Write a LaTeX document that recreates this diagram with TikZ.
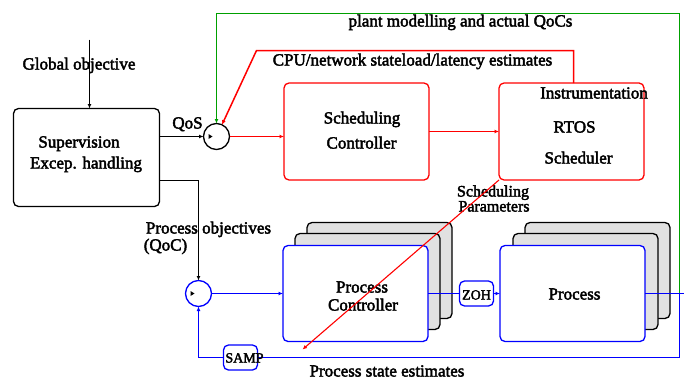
\documentclass[tikz,border=0pt]{standalone}
\usepackage{fontspec}
\setmainfont{Liberation Serif}[FakeBold=2.5]
\usetikzlibrary{arrows.meta}
\definecolor{fred}{RGB}{255,0,0}
\definecolor{fgreen}{RGB}{0,160,0}
\definecolor{fblue}{RGB}{0,0,255}
\definecolor{shade}{RGB}{225,225,225}
\tikzset{
  lnk/.style={line width=1.5pt},
  arr/.style={-{Latex[length=4.5pt,width=4pt]}}
}
\begin{document}
\begin{tikzpicture}[x=1pt,y=-1pt,
  every node/.style={inner sep=0pt, outer sep=0pt},
  lbl/.style={font=\fontsize{17}{19}\selectfont, anchor=base},
  smalllbl/.style={font=\fontsize{14}{16}\selectfont, anchor=base},
  bigbox/.style={draw, rounded corners=5pt, fill=white, line width=1.3pt, minimum width=145pt, minimum height=96pt},
  shadowbox/.style={draw=black, fill=shade, rounded corners=5pt, line width=1.3pt, minimum width=145pt, minimum height=96pt},
  tinybox/.style={draw=fblue, rounded corners=5pt, fill=white, line width=1.3pt, minimum width=34pt, minimum height=25pt},
  sumc/.style={circle, draw, minimum size=26pt, line width=1.3pt, fill=white}
]
\useasboundingbox (-0.5,-0.5) rectangle (683.5,379.5);

% shadows
\node[shadowbox] (pcs2) at (379,270) {};
\node[shadowbox] (pcs1) at (367,281) {};
\node[shadowbox] (prs2) at (597,270) {};
\node[shadowbox] (prs1) at (585,281) {};

% main boxes
\node[bigbox, draw=black, minimum width=146pt, minimum height=98pt] (sup) at (86,157) {};
\node[bigbox, draw=fred, minimum height=97pt] (sc) at (356,131) {};
\node[bigbox, draw=fred, minimum height=97pt] (rt) at (571,131) {};
\node[bigbox, draw=fblue] (pc) at (355,293) {};
\node[bigbox, draw=fblue] (pr) at (572,293) {};
\node[tinybox] (zoh) at (476,293) {};
\node[tinybox] (samp) at (240,357) {};
\node[sumc, draw=black] (c1) at (216,136) {};
\node[sumc, draw=fblue] (c2) at (198,293) {};
\fill[black] ([shift={(-8,-2.5)}]c1.center) -- ++(0,5) -- ++(4,-2.5) -- cycle;
\fill[black] ([shift={(-8,-2.5)}]c2.center) -- ++(0,5) -- ++(4,-2.5) -- cycle;

% coordinates
\coordinate (gtop) at (89,39);
\coordinate (cpuA) at (573,50);
\coordinate (cpuB) at (256,50);
\coordinate (gjoin) at (679,293);
\coordinate (gR) at (679,13);
\coordinate (pobj) at (198,180);
\coordinate (outR) at (684,293);
\coordinate (fbR) at (679,357);
\coordinate (fbL) at (198,357);
\coordinate (pse) at (302,349);

% black connectors
\draw[lnk,arr] (gtop) -- (gtop |- sup.north);
\draw[lnk,arr] (sup.east |- c1.west) -- (c1.west);
\draw[lnk,arr] (sup.east |- pobj) -- (pobj) -- (c2.north);

% green
\draw[lnk,draw=fgreen,arr] (gjoin) -- (gR) -- (c1.north |- gR) -- (c1.north);

% red
\draw[lnk,draw=fred,arr] (c1.east) -- (sc.west |- c1.east);
\draw[lnk,draw=fred,arr] (sc.east) -- (rt.west);
\draw[lnk,draw=fred,arr] (cpuA |- rt.north) -- (cpuA) -- (cpuB) -- (c1);

% blue
\draw[lnk,draw=fblue,arr] (c2.east) -- (pc.west);
\draw[lnk,draw=fblue] (pc.east) -- (zoh.west);
\draw[lnk,draw=fblue,arr] (zoh.east) -- (pr.west);
\draw[lnk,draw=fblue] (pr.east) -- (outR);
\draw[lnk,draw=fblue] (gjoin) -- (fbR) -- (samp.east |- fbR);
\draw[lnk,draw=fblue,arr] (samp.west) -- (fbL) -- (c2.south);

% texts
\node[lbl] (tglob) at (78.5,69) {Global objective};
\node[lbl] (tqos) at (187,128) {QoS};
\node[lbl] (tsup1) at (78.5,147) {Supervision};
\node[lbl] (tsup2) at (85.5,168) {Excep. handling};
\node[lbl] (tcpu) at (412,65) {CPU/network stateload/latency estimates};
\node[lbl] (tplant) at (460,26) {plant modelling and actual QoCs};
\node[lbl] (tsc1) at (361.5,123) {Scheduling};
\node[lbl] (tsc2) at (361,148) {Controller};
\node[lbl] (tinst) at (593.5,98) {Instrumentation};
\node[lbl] (trtos) at (574,132) {RTOS};
\node[lbl] (tschr) at (578,163) {Scheduler};
\node[lbl, font=\fontsize{16}{18}\selectfont] (tpar1) at (492.5,196) {Scheduling};
\node[lbl, font=\fontsize{16}{18}\selectfont] (tpar2) at (493.5,211) {Parameters};
\node[lbl] (tpo1) at (208,233) {Process objectives};
\node[lbl] (tpo2) at (165,250) {(QoC)};
\node[lbl] (tpc1) at (361.5,292) {Process};
\node[lbl] (tpc2) at (362.5,310) {Controller};
\node[smalllbl] (tzoh) at (476,299) {ZOH};
\node[lbl] (tproc) at (574,299) {Process};
\node[smalllbl] (tsamp) at (244,362) {SAMP};
\node[lbl] (tpse) at (386.5,376) {Process state estimates};

% red diagonal (scheduling parameters)
\draw[line width=1.1pt,draw=fred,arr] (rt.south west) -- (pse);
\end{tikzpicture}
\end{document}
